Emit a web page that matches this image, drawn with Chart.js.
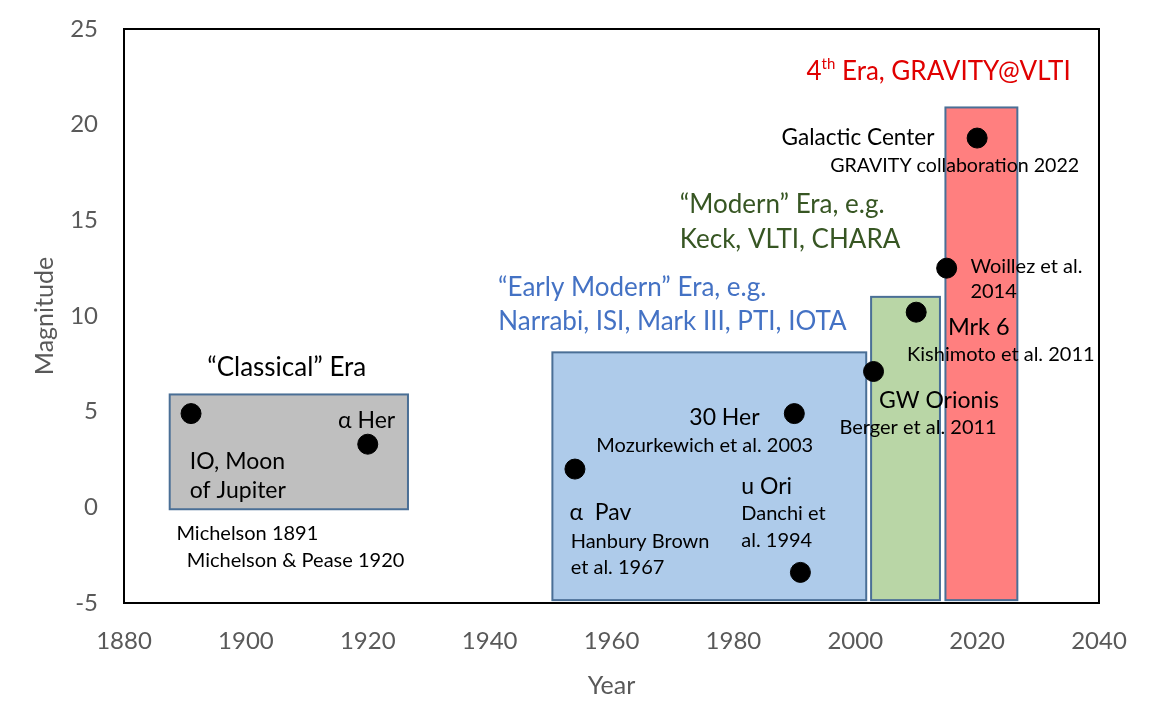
<!DOCTYPE html>
<html>
<head>
<meta charset="utf-8">
<script src="https://cdn.jsdelivr.net/npm/chart.js@4/dist/chart.umd.min.js"></script>
<style>
  html, body { margin: 0; padding: 0; background: #fff; }
  #wrap { width: 1152px; height: 726px; }
</style>
</head>
<body>
<div id="wrap"><canvas id="eraChart"></canvas></div>
<script>
// measurements (year, magnitude)
const years = [1891, 1920, 1954, 1990, 1991, 2003, 2010, 2015, 2020];
const magnitudes = [4.9, 3.3, 2.0, 4.9, -3.4, 7.1, 10.2, 12.5, 19.3];

// era boxes: start year, end year, low mag, high mag
const eraNames = ['Classical', 'Early Modern', 'Modern', 'GRAVITY'];
const eraStart = [1887.5, 1950.3, 2002.6, 2014.8];
const eraEnd = [1926.6, 2001.8, 2013.9, 2026.6];
const eraLow = [-0.1, -4.85, -4.85, -4.85];
const eraHigh = [5.9, 8.1, 11.0, 20.9];
const eraFill = ['#bfbfbf', '#aecbea', '#b9d6a6', '#ff7f7f'];

const xTicks = [1880, 2040, 20];
const yTicks = [-5, 25, 5];

// text labels: [text, year, mag, size, colour, align]
const labels = [
  ['\u201cClassical\u201d Era', 1906.7, 7.3, 26, '#000', 'center'],
  ['IO, Moon', 1890.8, 2.4, 23, '#000', 'left'],
  ['of Jupiter', 1890.8, 0.9, 23, '#000', 'left'],
  ['\u03b1 Her', 1919.8, 4.55, 23, '#000', 'center'],
  ['Michelson 1891', 1888.6, -1.36, 20, '#000', 'left'],
  ['Michelson & Pease 1920', 1890.3, -2.77, 20, '#000', 'left'],
  ['\u201cEarly Modern\u201d Era, e.g.', 1963.4, 11.5, 26, '#4472c4', 'center'],
  ['Narrabi, ISI, Mark III, PTI, IOTA', 1970.0, 9.7, 26, '#4472c4', 'center'],
  ['\u201cModern\u201d Era, e.g.', 1988.0, 15.8, 26, '#375623', 'center'],
  ['Keck, VLTI, CHARA', 1989.3, 14.0, 26, '#375623', 'center'],
  ['Galactic Center', 2013.0, 19.3, 22.6, '#000', 'right'],
  ['GRAVITY collaboration 2022', 1995.9, 17.85, 19.6, '#000', 'left'],
  ['Woillez et al.', 2018.9, 12.6, 20, '#000', 'left'],
  ['2014', 2018.9, 11.3, 20, '#000', 'left'],
  ['Mrk 6', 2015.2, 9.4, 23.5, '#000', 'left'],
  ['Kishimoto et al. 2011', 2008.5, 7.96, 20, '#000', 'left'],
  ['GW Orionis', 2003.9, 5.6, 23, '#000', 'left'],
  ['Berger et al. 2011', 1997.4, 4.19, 20, '#000', 'left'],
  ['30 Her', 1984.3, 4.7, 23, '#000', 'right'],
  ['Mozurkewich et al. 2003', 1957.5, 3.25, 20, '#000', 'left'],
  ['\u03b1  Pav', 1953.1, -0.3, 23, '#000', 'left'],
  ['Hanbury Brown', 1953.3, -1.78, 20, '#000', 'left'],
  ['et al. 1967', 1953.3, -3.14, 20, '#000', 'left'],
  ['u Ori', 1981.3, 1.1, 23, '#000', 'left'],
  ['Danchi et', 1981.3, -0.31, 20, '#000', 'left'],
  ['al. 1994', 1981.3, -1.73, 20, '#000', 'left'],
];

const FONT = 'Lato, "Open Sans", sans-serif';

const erasPlugin = {
  id: 'eras',
  beforeDatasetsDraw(chart) {
    const { ctx, scales: { x, y } } = chart;
    ctx.save();
    for (let i = 0; i < eraNames.length; i++) {
      const x0 = x.getPixelForValue(eraStart[i]);
      const x1 = x.getPixelForValue(eraEnd[i]);
      const y0 = y.getPixelForValue(eraHigh[i]);
      const y1 = y.getPixelForValue(eraLow[i]);
      ctx.fillStyle = eraFill[i];
      ctx.fillRect(x0, y0, x1 - x0, y1 - y0);
      ctx.strokeStyle = '#4a6f96';
      ctx.lineWidth = 2;
      ctx.strokeRect(x0, y0, x1 - x0, y1 - y0);
    }
    ctx.restore();
  },
  afterDatasetsDraw(chart) {
    const { ctx, chartArea: a, scales: { x, y } } = chart;
    ctx.save();
    ctx.textBaseline = 'middle';
    labels.forEach(([t, xv, yv, size, col, align]) => {
      ctx.font = size + 'px ' + FONT;
      ctx.fillStyle = col;
      ctx.textAlign = align;
      ctx.fillText(t, x.getPixelForValue(xv), y.getPixelForValue(yv));
    });

    // 4th era title with superscript
    const px = x.getPixelForValue(1992.0);
    const py = y.getPixelForValue(22.77);
    ctx.textAlign = 'left';
    ctx.fillStyle = '#e00000';
    ctx.font = '26px ' + FONT;
    ctx.fillText('4', px, py);
    let w = ctx.measureText('4').width;
    ctx.font = '15px ' + FONT;
    ctx.fillText('th', px + w, py - 8);
    w += ctx.measureText('th').width;
    ctx.font = '26px ' + FONT;
    ctx.fillText(' Era, GRAVITY@VLTI', px + w, py);

    // frame
    ctx.strokeStyle = '#000';
    ctx.lineWidth = 2;
    ctx.strokeRect(a.left, a.top, a.right - a.left, a.bottom - a.top);
    ctx.restore();
  }
};

const ctx = document.getElementById('eraChart').getContext('2d');
const eraChart = new Chart(ctx, {
  type: 'scatter',
  data: {
    datasets: [
      {
        label: 'Magnitude',
        data: years.map((yr, i) => ({ x: yr, y: magnitudes[i] })),
        backgroundColor: '#000',
        borderColor: '#000',
        pointRadius: 10,
        pointHoverRadius: 10,
      },
    ],
  },
  options: {
    responsive: true,
    maintainAspectRatio: false,
    animation: false,
    layout: { padding: { left: 20, right: 53, top: 29, bottom: 18 } },
    plugins: {
      legend: { display: false },
      tooltip: { enabled: false },
    },
    scales: {
      x: {
        type: 'linear',
        min: xTicks[0],
        max: xTicks[1],
        ticks: {
          stepSize: xTicks[2],
          color: '#595959',
          font: { family: FONT, size: 24 },
          padding: 16,
          callback: (v) => String(v),
        },
        grid: { display: false },
        border: { display: false },
        title: {
          display: true,
          text: 'Year',
          color: '#595959',
          font: { family: FONT, size: 25 },
          padding: { top: 4, bottom: 7 },
        },
        afterFit(scale) {
          scale.height = 726 - 603 - 18;
          scale.paddingLeft = 0;
          scale.paddingRight = 0;
        },
      },
      y: {
        min: yTicks[0],
        max: yTicks[1],
        ticks: {
          stepSize: yTicks[2],
          color: '#595959',
          font: { family: FONT, size: 24 },
          padding: 18,
        },
        grid: { display: false },
        border: { display: false },
        title: {
          display: true,
          text: 'Magnitude',
          color: '#595959',
          font: { family: FONT, size: 25 },
          padding: { top: 10, bottom: 4 },
        },
        afterFit(scale) {
          scale.width = 124 - 20;
          scale.paddingTop = 0;
          scale.paddingBottom = 0;
        },
      },
    },
  },
  plugins: [erasPlugin],
});
</script>
</body>
</html>
